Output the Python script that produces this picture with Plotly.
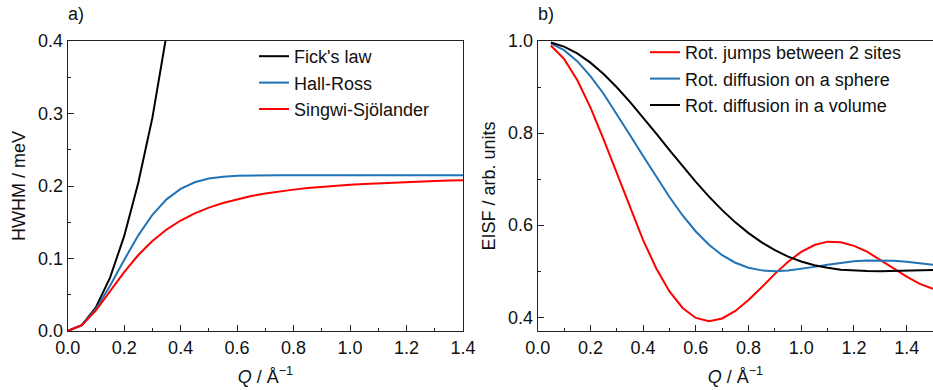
import plotly.graph_objects as go

# ---------------- data: panel a) HWHM vs Q ----------------
q_a = [0.0, 0.05, 0.1, 0.15, 0.2, 0.25, 0.3, 0.35, 0.4, 0.45, 0.5, 0.55, 0.6, 0.65,
       0.7, 0.75, 0.8, 0.85, 0.9, 0.95, 1.0, 1.05, 1.1, 1.15, 1.2, 1.25, 1.3, 1.35, 1.4]
fick_q = [0.0, 0.05, 0.1, 0.15, 0.2, 0.25, 0.3, 0.35, 0.4]
fick = [0.0, 0.0082, 0.0327, 0.0736, 0.1308, 0.2044, 0.2943, 0.4006, 0.5232]
hall_ross = [0.0, 0.0080, 0.0303, 0.0623, 0.0980, 0.1319, 0.1603, 0.1816, 0.1961, 0.2051,
             0.2102, 0.2128, 0.2141, 0.2147, 0.2149, 0.2150, 0.2150, 0.2150, 0.2150, 0.2150,
             0.2150, 0.2150, 0.2150, 0.2150, 0.2150, 0.2150, 0.2150, 0.2150, 0.2150]
singwi = [0.0, 0.0079, 0.0284, 0.0548, 0.0813, 0.1048, 0.1242, 0.1399, 0.1524, 0.1623,
          0.1702, 0.1766, 0.1818, 0.1861, 0.1896, 0.1925, 0.1950, 0.1971, 0.1989, 0.2004,
          0.2017, 0.2029, 0.2039, 0.2048, 0.2056, 0.2063, 0.2070, 0.2075, 0.2080]

# ---------------- data: panel b) EISF vs Q ----------------
q_b = [0.05, 0.1, 0.15, 0.2, 0.25, 0.3, 0.35, 0.4, 0.45, 0.5, 0.55, 0.6, 0.65, 0.7, 0.75,
       0.8, 0.85, 0.9, 0.95, 1.0, 1.05, 1.1, 1.15, 1.2, 1.25, 1.3, 1.35, 1.4, 1.45, 1.5]
jumps_2sites = [0.9901, 0.9612, 0.9153, 0.8558, 0.7864, 0.7121, 0.6373, 0.5675, 0.5059, 0.4560,
                0.4201, 0.3984, 0.3913, 0.3972, 0.4136, 0.4372, 0.4650, 0.4941, 0.5206, 0.5419,
                0.5568, 0.5641, 0.5627, 0.5550, 0.5423, 0.5245, 0.5059, 0.4880, 0.4725, 0.4614]
diff_sphere = [0.9949, 0.9800, 0.9561, 0.9239, 0.8855, 0.8419, 0.7958, 0.7500, 0.7045, 0.6610,
               0.6210, 0.5862, 0.5574, 0.5346, 0.5183, 0.5075, 0.5017, 0.5000, 0.5014, 0.5048,
               0.5093, 0.5140, 0.5182, 0.5213, 0.5232, 0.5235, 0.5225, 0.5203, 0.5173, 0.5137]
diff_volume = [0.9969, 0.9879, 0.9731, 0.9530, 0.9283, 0.8996, 0.8679, 0.8339, 0.7987, 0.7631,
               0.7281, 0.6941, 0.6620, 0.6326, 0.6060, 0.5826, 0.5624, 0.5455, 0.5317, 0.5210,
               0.5130, 0.5072, 0.5033, 0.5012, 0.5002, 0.5000, 0.5005, 0.5012, 0.5020, 0.5027]

BLACK = "#000000"
BLUE = "#1f73b6"
RED = "#ff0000"
FONT = "Liberation Sans, Arial, sans-serif"
FS = 18
TXT = "#111111"

fig = go.Figure()
fig.add_trace(go.Scatter(x=fick_q, y=fick, mode="lines", name="Fick's law",
                         line=dict(color=BLACK, width=2), legend="legend"))
fig.add_trace(go.Scatter(x=q_a, y=hall_ross, mode="lines", name="Hall-Ross",
                         line=dict(color=BLUE, width=2), legend="legend"))
fig.add_trace(go.Scatter(x=q_a, y=singwi, mode="lines", name="Singwi-Sjölander",
                         line=dict(color=RED, width=2), legend="legend"))

fig.add_trace(go.Scatter(x=q_b, y=jumps_2sites, mode="lines", name="Rot. jumps between 2 sites",
                         line=dict(color=RED, width=2), xaxis="x2", yaxis="y2", legend="legend2"))
fig.add_trace(go.Scatter(x=q_b, y=diff_sphere, mode="lines", name="Rot. diffusion on a sphere",
                         line=dict(color=BLUE, width=2), xaxis="x2", yaxis="y2", legend="legend2"))
fig.add_trace(go.Scatter(x=q_b, y=diff_volume, mode="lines", name="Rot. diffusion in a volume",
                         line=dict(color=BLACK, width=2), xaxis="x2", yaxis="y2", legend="legend2"))

W, H = 933, 390
ML, MR, MT, MB = 0, 0, 41, 59
PH = H - MT - MB

axis_common = dict(
    showgrid=False, zeroline=False, showline=True, linecolor="#222222", linewidth=1.3,
    ticks="inside", ticklen=6, tickwidth=1.2, tickcolor="#222222",
    tickfont=dict(family=FONT, size=FS, color=TXT),
    tickformat=".1f", automargin=False,
)

xtitle = dict(text="<i>Q</i> / Å<sup>−1</sup>", font=dict(family=FONT, size=FS, color=TXT),
              standoff=13)

fig.update_layout(
    width=W, height=H,
    margin=dict(l=ML, r=MR, t=MT, b=MB, autoexpand=False),
    paper_bgcolor="white", plot_bgcolor="white",
    font=dict(family=FONT, size=FS, color=TXT),
    xaxis=dict(domain=[67.7 / W, 463 / W], range=[0, 1.4], dtick=0.2, tick0=0,
               mirror=True, title=xtitle,
               minor=dict(ticks="inside", ticklen=3, dtick=0.1, tickcolor="#222222"),
               anchor="y", **axis_common),
    yaxis=dict(domain=[0, 1], range=[0, 0.4], dtick=0.1, tick0=0, mirror=True,
               title=dict(text="HWHM / meV", font=dict(family=FONT, size=FS, color=TXT),
                          standoff=7),
               minor=dict(ticks="inside", ticklen=3, dtick=0.05, tickcolor="#222222"),
               anchor="x", **axis_common),
    xaxis2=dict(domain=[537.7 / W, 1.0], range=[0, 1.5], dtick=0.2, tick0=0,
                mirror=True, title=xtitle,
                minor=dict(ticks="inside", ticklen=3, dtick=0.1, tickcolor="#222222"),
                anchor="y2", **axis_common),
    yaxis2=dict(domain=[0, 1], range=[0.37, 1.0], dtick=0.2, tick0=0,
                title=dict(text="EISF / arb. units", font=dict(family=FONT, size=FS, color=TXT),
                           standoff=7),
                minor=dict(ticks="inside", ticklen=3, dtick=0.1, tickcolor="#222222"),
                anchor="x2", **axis_common),
    legend=dict(x=254 / W, y=1 - (38 - MT) / PH, xanchor="left", yanchor="top",
                bgcolor="rgba(0,0,0,0)", borderwidth=0,
                font=dict(family=FONT, size=FS, color=TXT), tracegroupgap=0),
    legend2=dict(x=645 / W, y=1 - (34 - MT) / PH, xanchor="left", yanchor="top",
                 bgcolor="rgba(0,0,0,0)", borderwidth=0,
                 font=dict(family=FONT, size=FS, color=TXT), tracegroupgap=0),
    showlegend=True,
    annotations=[
        dict(text="a)", x=66 / W, y=1 + (MT - 14) / PH, xref="paper", yref="paper",
             xanchor="left", yanchor="middle", showarrow=False,
             font=dict(family=FONT, size=FS, color=TXT)),
        dict(text="b)", x=536 / W, y=1 + (MT - 14) / PH, xref="paper", yref="paper",
             xanchor="left", yanchor="middle", showarrow=False,
             font=dict(family=FONT, size=FS, color=TXT)),
    ],
)

fig.write_html("out.html")
